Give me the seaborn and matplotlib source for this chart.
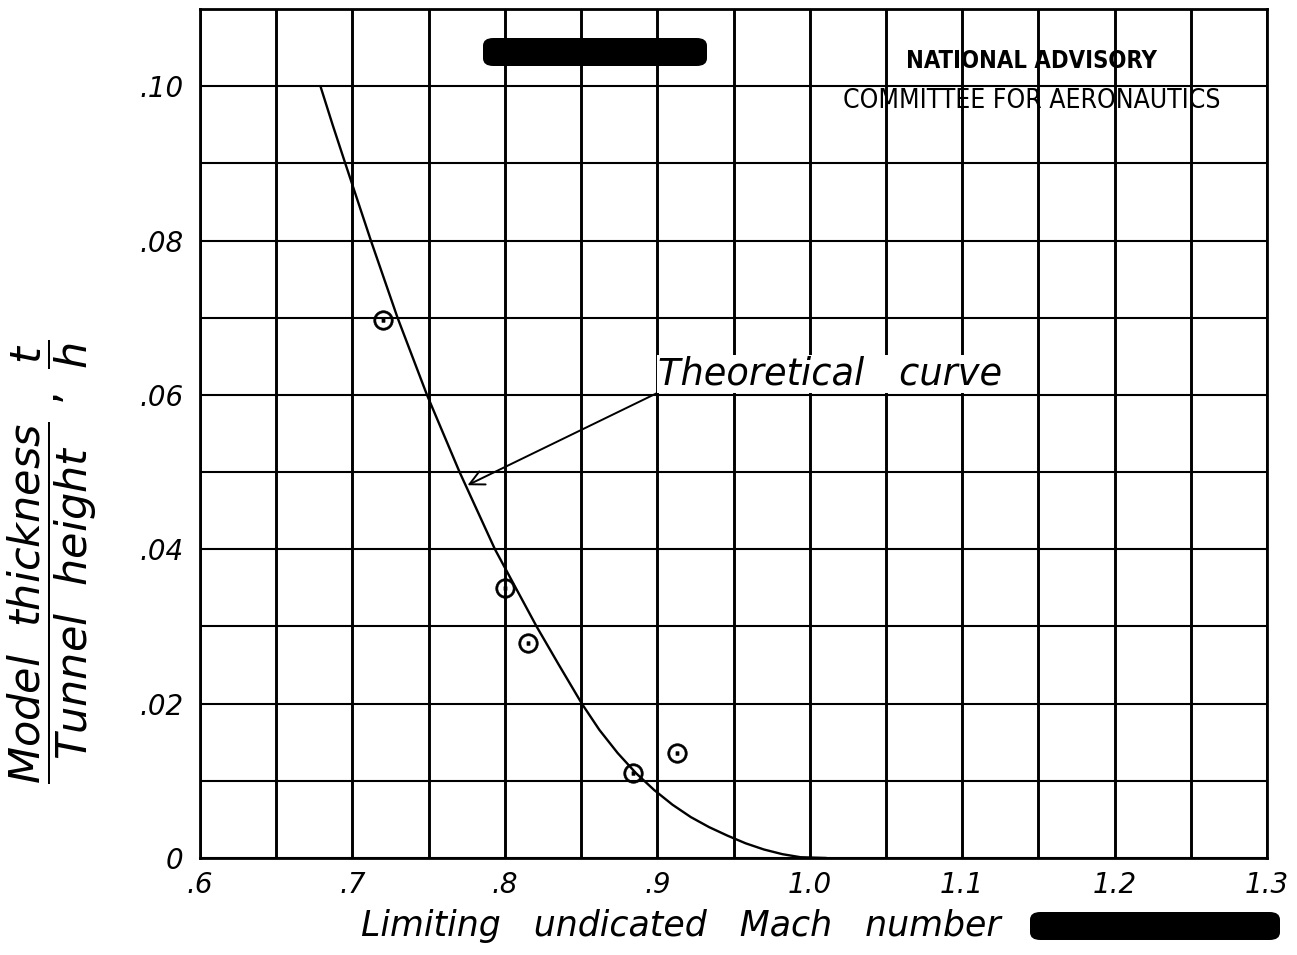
import numpy as np
import pandas as pd
import seaborn as sns
import matplotlib.pyplot as plt
from matplotlib.patches import FancyBboxPatch
from matplotlib.ticker import MultipleLocator

# theoretical curve
curve_mach = [0.679, 0.687, 0.6953, 0.7121, 0.7296, 0.7489, 0.7703, 0.7935,
              0.8208, 0.8355, 0.8505, 0.862, 0.874, 0.886, 0.898, 0.910, 0.922,
              0.934, 0.946, 0.958, 0.970, 0.982, 0.994, 1.011]
curve_th = [0.100, 0.095, 0.090, 0.080, 0.070, 0.060, 0.050, 0.040,
            0.030, 0.025, 0.020, 0.0166, 0.0136, 0.0110, 0.0088, 0.0069, 0.0053,
            0.0040, 0.0029, 0.0019, 0.0011, 0.0005, 0.0001, 0.0]

# test points
test_mach = [0.720, 0.800, 0.815, 0.884, 0.913]
test_th = [0.0697, 0.0350, 0.0279, 0.0110, 0.0136]

x_ticks = [0.6, 0.7, 0.8, 0.9, 1.0, 1.1, 1.2, 1.3]
x_labels = [".6", ".7", ".8", ".9", "1.0", "1.1", "1.2", "1.3"]
y_ticks = [0.0, 0.02, 0.04, 0.06, 0.08, 0.10]
y_labels = ["0", ".02", ".04", ".06", ".08", ".10"]

sns.set_style("white")
plt.rcParams["font.family"] = ["DejaVu Sans"]
plt.rcParams["mathtext.fontset"] = "dejavusans"
plt.rcParams["text.color"] = "black"
plt.rcParams["xtick.color"] = "black"
plt.rcParams["ytick.color"] = "black"

curve = pd.DataFrame({"mach": curve_mach, "th": curve_th})
points = pd.DataFrame({"mach": test_mach, "th": test_th})

fig = plt.figure(figsize=(12.97, 9.55), dpi=100)
ax = fig.add_axes([200 / 1297, 97 / 955, 1067 / 1297, 849 / 955])

sns.lineplot(data=curve, x="mach", y="th", color="black", linewidth=1.7,
             estimator=None, sort=False, ax=ax, zorder=3)
sns.scatterplot(data=points, x="mach", y="th", marker=r"$\odot$", s=200,
                color="black", linewidth=0.4, edgecolor="black", ax=ax, zorder=4)

ax.set_xlim(0.6, 1.3)
ax.set_ylim(0, 0.11)
ax.xaxis.set_minor_locator(MultipleLocator(0.05))
ax.yaxis.set_minor_locator(MultipleLocator(0.01))
ax.set_xticks(x_ticks)
ax.set_xticklabels(x_labels)
ax.set_yticks(y_ticks)
ax.set_yticklabels(y_labels)
ax.grid(which="both", axis="x", color="black", linewidth=2.1)
ax.grid(which="both", axis="y", color="black", linewidth=1.5)
ax.set_axisbelow(True)
for s in ax.spines.values():
    s.set_linewidth(2.0)
    s.set_color("black")
ax.tick_params(which="both", length=0)
ax.tick_params(axis="x", pad=9, labelsize=20)
ax.tick_params(axis="y", pad=12, labelsize=20)
for lab in ax.get_xticklabels() + ax.get_yticklabels():
    lab.set_fontstyle("italic")
ax.set_xlabel("")
ax.set_ylabel("")

ax.annotate("Theoretical   curve", xy=(0.7755, 0.0483), xytext=(0.9005, 0.0603),
            fontsize=26.5, fontstyle="italic", ha="left", va="bottom",
            bbox=dict(boxstyle="square,pad=0.02", fc="white", ec="none"),
            arrowprops=dict(arrowstyle="->", color="black", lw=1.4, relpos=(0, 0),
                            shrinkA=0, shrinkB=0, mutation_scale=26),
            zorder=5)

fig.text(1032 / 1297, (955 - 61) / 955, "NATIONAL ADVISORY", family="DejaVu Sans",
         fontstretch="condensed", fontweight="bold", fontsize=17, ha="center", va="center")
fig.text(1032 / 1297, (955 - 101) / 955, "COMMITTEE FOR AERONAUTICS", family="DejaVu Sans",
         fontstretch="condensed", fontsize=19, ha="center", va="center")

fig.text(681 / 1297, (955 - 926) / 955, "Limiting   undicated   Mach   number",
         fontsize=25, fontstyle="italic", ha="center", va="center")

fig.text(52 / 1297, (955 - 562) / 955,
         r"$\dfrac{\mathit{Model\ \ thickness}}{\mathit{Tunnel\ \ height}}\ ,\ \dfrac{t}{h}$",
         fontsize=31, rotation=90, ha="center", va="center")

# blacked-out stamps
for x0, y0, w, h in [(483, 38, 224, 28), (1030, 912, 250, 28)]:
    fig.patches.append(FancyBboxPatch((x0 / 1297, (955 - y0 - h) / 955), w / 1297, h / 955,
                                      boxstyle="round,pad=0,rounding_size=0.008",
                                      transform=fig.transFigure, fc="black", ec="none"))

fig.savefig("out.png", dpi=100)
